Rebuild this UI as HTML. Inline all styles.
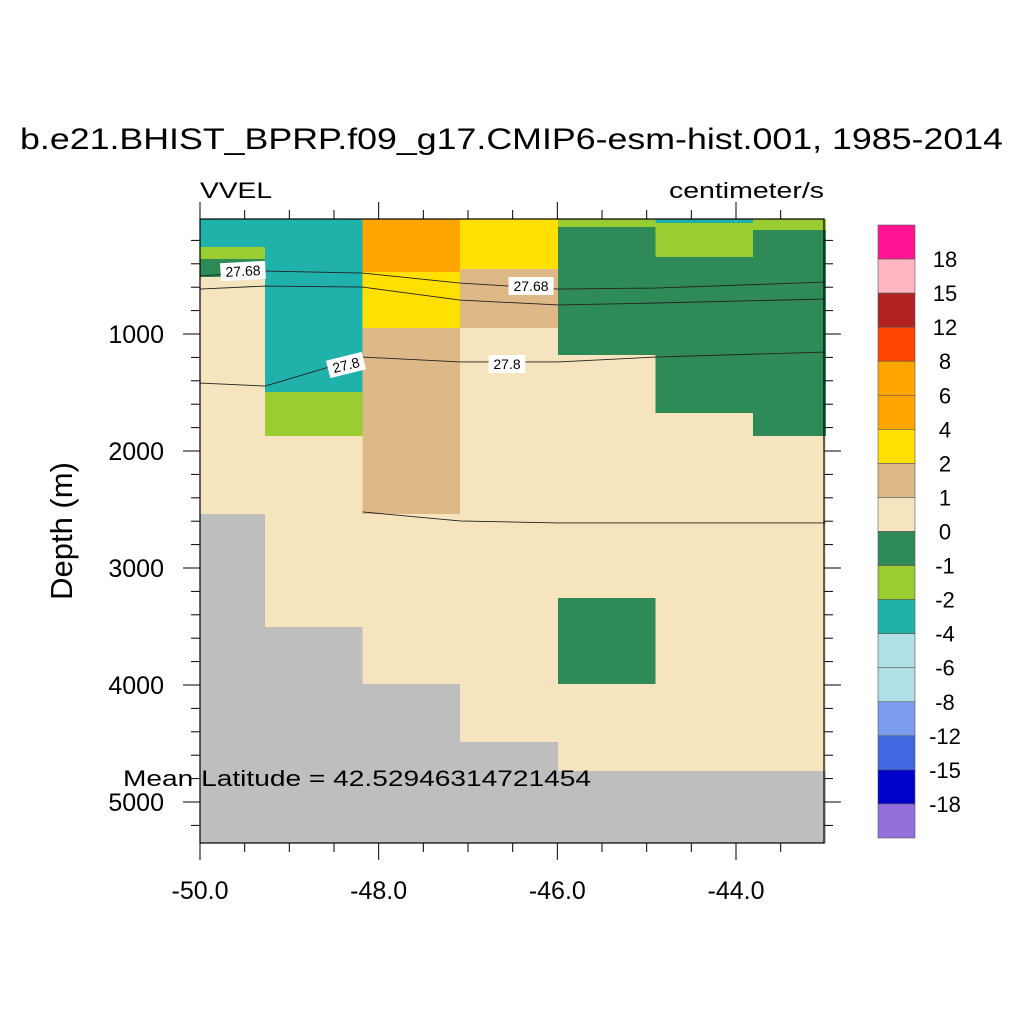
<!DOCTYPE html>
<html><head><meta charset="utf-8"><style>
html,body{margin:0;padding:0;background:#fff;}
svg{display:block;font-family:"Liberation Sans",sans-serif;}
</style></head><body>
<svg id="chart" width="1024" height="1024" viewBox="0 0 1024 1024">
<text x="20" y="149" font-size="30" textLength="983" lengthAdjust="spacingAndGlyphs">b.e21.BHIST_BPRP.f09_g17.CMIP6-esm-hist.001, 1985-2014</text>
<text x="200" y="198" font-size="22" textLength="72" lengthAdjust="spacingAndGlyphs">VVEL</text>
<text x="824" y="198" font-size="22" text-anchor="end" textLength="155" lengthAdjust="spacingAndGlyphs">centimeter/s</text>
<text transform="translate(72,531) rotate(-90)" font-size="31" text-anchor="middle">Depth (m)</text>
<g id="cells" shape-rendering="crispEdges"></g>
<g id="contours"></g>
<rect x="200" y="219" width="624" height="624" fill="none" stroke="#000" stroke-width="1.2"/>
<g id="ticks"></g>
<text x="123" y="786" font-size="22" textLength="468" lengthAdjust="spacingAndGlyphs">Mean Latitude = 42.52946314721454</text>
<g id="colorbar"></g>
</svg>
<script>
// ---- data ----
const lonEdges = [-50.0, -49.27, -48.18, -47.09, -45.99, -44.9, -43.81, -43.0];
const col0 = [[15,256,'-4'],[256,359,'-2'],[359,513,'-1'],[513,2538,'0'],[2538,5350,'land']];
const col1 = [[15,1496,'-4'],[1496,1872,'-2'],[1872,3504,'0'],[3504,5350,'land']];
const col2 = [[15,470,'6'],[470,949,'2'],[949,2538,'1'],[2538,3991,'0'],[3991,5350,'land']];
const col3 = [[15,444,'2'],[444,949,'1'],[949,4487,'0'],[4487,5350,'land']];
const col4 = [[15,85,'-2'],[85,1179,'-1'],[1179,3256,'0'],[3256,3991,'-1'],[3991,4735,'0'],[4735,5350,'land']];
const col5 = [[15,51,'-4'],[51,342,'-2'],[342,1675,'-1'],[1675,4735,'0'],[4735,5350,'land']];
const col6 = [[15,111,'-2'],[111,1872,'-1'],[1872,4735,'0'],[4735,5350,'land']];
const columns = [col0,col1,col2,col3,col4,col5,col6];
const catColors = {'6':'#ffa500','2':'#ffe000','1':'#deb887','0':'#f5e4be','-1':'#2e8b57','-2':'#9acd32','-4':'#20b2aa','land':'#bebebe'};
const c1Lon = [-50,-49.27,-48.18,-47.09,-45.99,-44.9,-43.0];
const c1Dep = [505,462,479,565,616,607,556];
const c2Dep = [616,590,599,710,752,735,701];
const c3Dep = [1419,1445,1197,1239,1239,1197,1154];
const c4Lon = [-48.18,-47.09,-45.99,-43.0];
const c4Dep = [2521,2598,2615,2615];
const cbLabels = ['18','15','12','8','6','4','2','1','0','-1','-2','-4','-6','-8','-12','-15','-18'];
const cbColors = ['#ff1493','#ffb6c1','#b22222','#ff4500','#ffa500','#ffa500','#ffe000','#deb887','#f5e4be','#2e8b57','#9acd32','#20b2aa','#b0e0e6','#b0e0e6','#7b9cee','#4169e1','#0000cd','#9370db'];
const xTicks = [-50,-48,-46,-44];
const yTicks = [1000,2000,3000,4000,5000];

// ---- axes ----
const X = lon => 200 + (lon + 50) * (536 / 6);
const Y = d => 217 + d * 0.117;
const NS = 'http://www.w3.org/2000/svg';
function mk(tag, attrs, parent){const e=document.createElementNS(NS,tag);for(const k in attrs)e.setAttribute(k,attrs[k]);parent.appendChild(e);return e;}

const cells = document.getElementById('cells');
columns.forEach((col, i) => {
  col.forEach(seg => {
    const top = Math.max(seg[0], 15);
    const bot = Math.min(seg[1], 5350);
    const y0 = top === 15 ? 219 : Y(top);
    const r = mk('rect', {x:X(lonEdges[i]), y:y0, width:X(lonEdges[i+1])-X(lonEdges[i])+0.5, height:Y(bot)-y0+0.5, fill:catColors[seg[2]]}, cells);
    
    
  });
});

const cont = document.getElementById('contours');
function line(lons, deps, name){
  const p = mk('polyline', {points: lons.map((l,i)=>X(l)+','+Y(deps[i])).join(' '), fill:'none', stroke:'#222', 'stroke-width':0.9}, cont);
  
  
}
line(c1Lon, c1Dep, 'contour-27-68-upper');
line(c1Lon, c2Dep, 'contour-27-68-lower');
line(c1Lon, c3Dep, 'contour-27-8');
line(c4Lon, c4Dep, 'contour-deep');
function label(x, y, txt, rot){
  const g = mk('g', {transform:`translate(${x},${y}) rotate(${rot})`}, cont);
  
  
  const w = txt.length * 8.2 + 4;
  mk('rect', {x:-w/2, y:-9, width:w, height:18, fill:'#fff'}, g);
  mk('text', {x:0, y:5, 'font-size':14, 'text-anchor':'middle'}, g).textContent = txt;
}
label(243, 271, '27.68', -3);
label(531, 286, '27.68', 0);
label(346, 365, '27.8', -14);
label(507, 364, '27.8', 0);

const ticks = document.getElementById('ticks');
for (let lon = -50; lon <= -43.001; lon += 0.5) {
  const major = Math.abs(lon - Math.round(lon/2)*2) < 1e-6;
  const x = X(lon), L = major ? 17 : 9;
  mk('line', {x1:x, y1:843, x2:x, y2:843+L, stroke:'#000', 'stroke-width':1}, ticks);
  mk('line', {x1:x, y1:219, x2:x, y2:219-L, stroke:'#000', 'stroke-width':1}, ticks);
}
for (let d = 200; d <= 5300; d += 200) {
  const major = d % 1000 === 0;
  const y = Y(d), L = major ? 17 : 9;
  mk('line', {x1:200, y1:y, x2:200-L, y2:y, stroke:'#000', 'stroke-width':1}, ticks);
  mk('line', {x1:824, y1:y, x2:824+L, y2:y, stroke:'#000', 'stroke-width':1}, ticks);
}
xTicks.forEach(v => {
  const t = mk('text', {x:X(v), y:899, 'font-size':25, 'text-anchor':'middle'}, ticks);
  t.textContent = v.toFixed(1);
  
  
});
yTicks.forEach(v => {
  const t = mk('text', {x:164, y:Y(v)+9, 'font-size':25, 'text-anchor':'end'}, ticks);
  t.textContent = v;
  
  
});

const cb = document.getElementById('colorbar');
const bh = (838 - 225) / cbColors.length;
cbColors.forEach((c, i) => {
  const r = mk('rect', {x:878, y:225 + i*bh, width:37, height:bh, fill:c, stroke:'#555', 'stroke-width':0.6}, cb);
  
  
});
cbLabels.forEach((s, i) => {
  const t = mk('text', {x:945, y:225 + (i+1)*bh + 8, 'font-size':22, 'text-anchor':'middle'}, cb);
  t.textContent = s;
  
  
});
</script>
</body></html>
